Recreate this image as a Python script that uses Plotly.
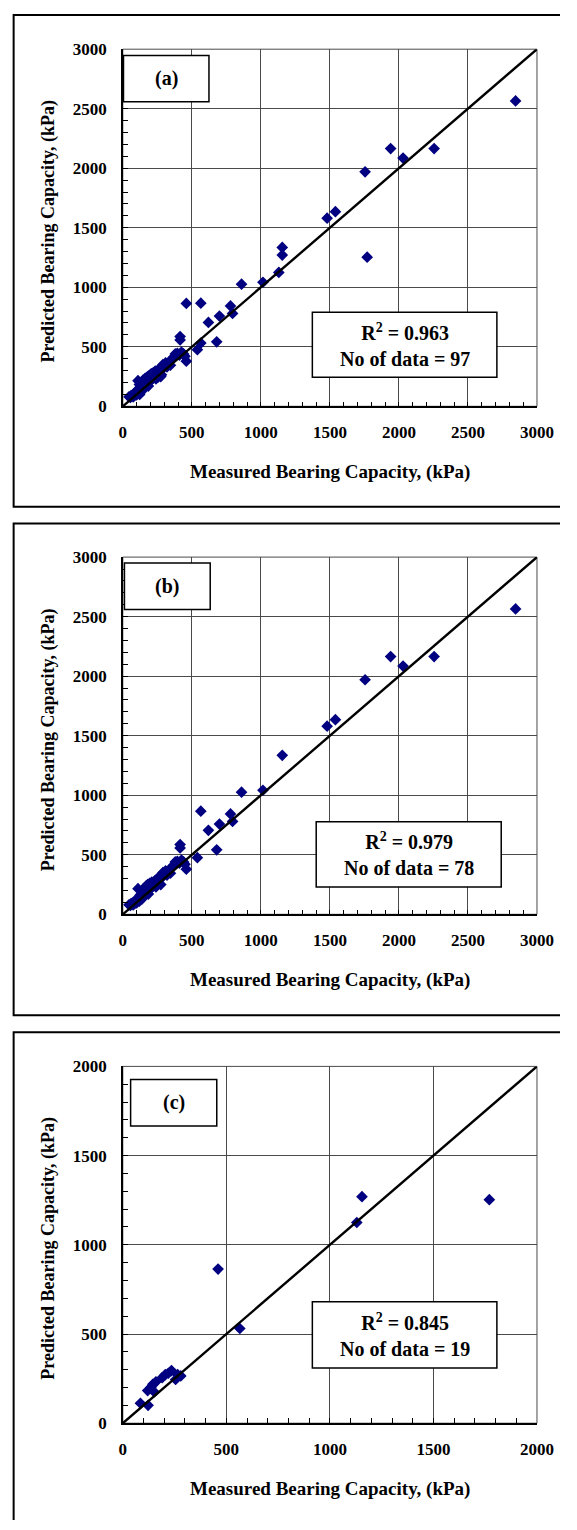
import plotly.graph_objects as go

# ---------------- data ----------------
# Points that appear in panel (b) (78 points)
xb = [2845, 1940, 2030, 2255, 1755, 1480, 1540, 1155, 1015, 860, 565, 780, 795, 700, 620, 680, 540, 415, 415, 460,
      45, 55, 60, 65, 70, 75, 80, 85, 90, 95, 100, 105, 110, 110, 115, 120, 125, 130, 135, 140, 145, 150,
      155, 160, 165, 170, 175, 180, 185, 190, 195, 200, 205, 210, 215, 220, 230, 240, 250, 260, 270, 280, 290, 300, 310, 320,
      335, 345, 355, 365, 380, 395, 410, 425, 440, 450, 240, 275]
yb = [2565, 2165, 2085, 2165, 1970, 1580, 1635, 1335, 1042, 1026, 866, 843, 780, 758, 705, 542, 476, 586, 558, 379,
      80, 75, 90, 85, 95, 80, 100, 90, 110, 120, 95, 130, 120, 215, 140, 110, 160, 150, 170, 130, 180, 160,
      200, 220, 190, 240, 210, 250, 170, 230, 260, 215, 245, 270, 230, 255, 280, 265, 300, 285, 320, 305, 350, 340, 365, 330,
      370, 345, 395, 410, 440, 445, 430, 455, 440, 420, 230, 250]
# Points that appear in panel (c) (19 points)
xc = [1770, 1155, 1130, 460, 565, 85, 122, 120, 135, 145, 152, 160, 190, 205, 220, 235, 255, 265, 280]
yc = [1253, 1270, 1125, 864, 531, 112, 100, 183, 200, 218, 175, 232, 255, 272, 280, 295, 245, 272, 265]
# Panel (a) = all 97 points
xa = xb + xc
ya = yb + yc

panel_labels = ["(a)", "(b)", "(c)"]
r2_values = ["0.963", "0.979", "0.845"]
n_data = [97, 78, 19]
axis_max = [3000, 3000, 2000]
x_title = "Measured Bearing Capacity, (kPa)"
y_title = "Predicted Bearing Capacity, (kPa)"

# ---------------- layout geometry (pixels) ----------------
W, H = 577, 1530
def px(x):
    return x / W
def py(y):
    return 1 - y / H

plot_x = (123.3, 553.1)
plot_y = [(40.7, 402.3), (555.0, 916.7), (1070.7, 1432.0)]
# outer frames: left x, top y, bottom y (None = runs off the page); right side runs off the page
frames = [(10, 6, 504), (10, 521, 1019), (10, 1036, None)]
label_boxes = [(124, 47, 212.7, 94), (125, 561, 214, 608), (131.4, 1084, 220.8, 1131)]
r2_boxes = [(320, 307, 511.5, 373), (324, 823, 516, 889), (320, 1309, 511.5, 1376)]
xtitle_y = [469, 983, 1499]
ytitle_y = [225, 740, 1255]

FONT = "Liberation Serif"
NAVY = "#000080"
GRID = "#4a4a4a"

fig = go.Figure()
datasets = [(xa, ya), (xb, yb), (xc, yc)]
shapes = []
annotations = []

def P(x, y):
    return "%.5f %.5f" % (px(x), py(y))

for i in range(3):
    sfx = "" if i == 0 else str(i + 1)
    xs, ys = datasets[i]
    m = axis_max[i]
    fig.add_trace(go.Scatter(
        x=xs, y=ys, mode="markers", xaxis="x" + sfx, yaxis="y" + sfx,
        marker=dict(symbol="diamond", size=9, color=NAVY, line=dict(width=0)),
        showlegend=False, hoverinfo="skip"))
    fig.add_trace(go.Scatter(
        x=[0, m], y=[0, m], mode="lines", xaxis="x" + sfx, yaxis="y" + sfx,
        line=dict(color="black", width=2.4), showlegend=False, hoverinfo="skip"))

    common = dict(
        range=[0, m], dtick=500, tick0=0, showgrid=True, gridcolor=GRID, gridwidth=1,
        zeroline=False, showline=True, linecolor="black", linewidth=1.5,
        ticks="inside", ticklen=5, tickcolor="black", tickwidth=1,
        minor=dict(dtick=100, ticks="inside", ticklen=5, tickcolor="black", tickwidth=1, showgrid=False),
        tickfont=dict(family=FONT, size=17, color="black", weight="bold"),
        ticklabeloverflow="allow",
        fixedrange=True,
    )
    fig.update_layout(**{
        "xaxis" + sfx: dict(common, domain=[px(plot_x[0]), px(plot_x[1])], anchor="y" + sfx,
                            ticklabelstandoff=10),
        "yaxis" + sfx: dict(common, domain=[py(plot_y[i][1]), py(plot_y[i][0])], anchor="x" + sfx,
                            ticklabelstandoff=11),
    })

    # plot area border (top/right)
    shapes.append(dict(type="rect", xref="x" + sfx + " domain", yref="y" + sfx + " domain",
                       x0=0, x1=1, y0=0, y1=1, line=dict(color=GRID, width=1), layer="below"))
    # outer frame (kept inside the page)
    fx0, fy0, fy1 = frames[i]
    if fy1 is None:
        path = "M " + P(W, fy0) + " L " + P(fx0, fy0) + " L " + P(fx0, H)
    else:
        path = "M " + P(W, fy0) + " L " + P(fx0, fy0) + " L " + P(fx0, fy1) + " L " + P(W, fy1)
    shapes.append(dict(type="path", xref="paper", yref="paper", path=path,
                       line=dict(color="black", width=2)))
    # label box
    lx0, ly0, lx1, ly1 = label_boxes[i]
    shapes.append(dict(type="rect", xref="paper", yref="paper",
                       x0=px(lx0), x1=px(lx1), y0=py(ly1), y1=py(ly0),
                       line=dict(color="black", width=1.5), fillcolor="white", layer="above"))
    annotations.append(dict(xref="paper", yref="paper", x=px((lx0 + lx1) / 2), y=py((ly0 + ly1) / 2),
                            text="<b>" + panel_labels[i] + "</b>", showarrow=False,
                            xanchor="center", yanchor="middle",
                            font=dict(family=FONT, size=20, color="black")))
    # R2 box
    rx0, ry0, rx1, ry1 = r2_boxes[i]
    shapes.append(dict(type="rect", xref="paper", yref="paper",
                       x0=px(rx0), x1=px(rx1), y0=py(ry1), y1=py(ry0),
                       line=dict(color="black", width=1.5), fillcolor="white", layer="above"))
    annotations.append(dict(xref="paper", yref="paper", x=px((rx0 + rx1) / 2), y=py((ry0 + ry1) / 2),
                            text="<b>R<sup>2</sup> = " + r2_values[i] + "<br>No of data = " + str(n_data[i]) + "</b>",
                            showarrow=False, xanchor="center", yanchor="middle", align="center",
                            font=dict(family=FONT, size=20, color="black")))
    # axis titles
    annotations.append(dict(xref="paper", yref="paper", x=px((plot_x[0] + plot_x[1]) / 2), y=py(xtitle_y[i]),
                            text="<b>" + x_title + "</b>", showarrow=False,
                            xanchor="center", yanchor="middle",
                            font=dict(family=FONT, size=19, color="black")))
    annotations.append(dict(xref="paper", yref="paper", x=px(46), y=py(ytitle_y[i]),
                            text="<b>" + y_title + "</b>", showarrow=False, textangle=-90,
                            xanchor="center", yanchor="middle",
                            font=dict(family=FONT, size=18, color="black")))

fig.update_layout(
    width=W, height=H, margin=dict(l=0, r=0, t=0, b=0),
    paper_bgcolor="white", plot_bgcolor="white",
    shapes=shapes, annotations=annotations,
)

fig.write_html("out.html", config={"displayModeBar": False})
